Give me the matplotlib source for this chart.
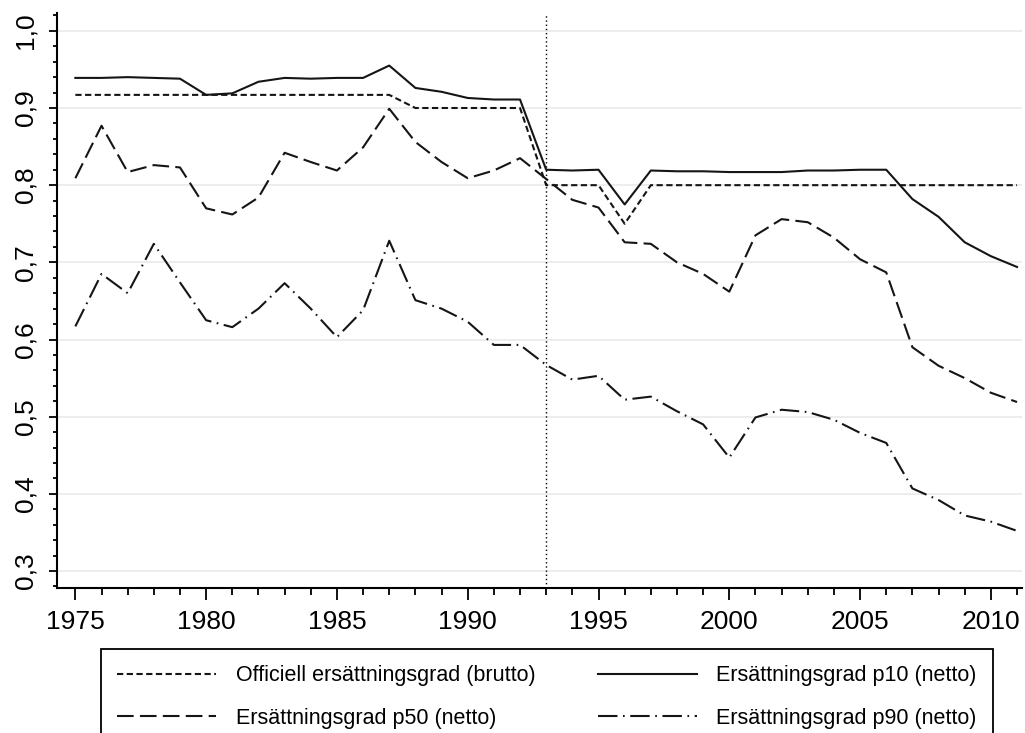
import matplotlib
matplotlib.use("Agg")
import matplotlib.pyplot as plt
from matplotlib.ticker import MultipleLocator, FuncFormatter
import numpy as np

years = list(range(1975, 2012))

official = [0.917] * 13 + [0.900] * 5 + [0.800] * 3 + [0.750] + [0.800] * 15

p10 = [0.939, 0.939, 0.940, 0.939, 0.938, 0.917, 0.919, 0.934, 0.939, 0.938,
       0.939, 0.939, 0.955, 0.926, 0.921, 0.913, 0.911, 0.911, 0.820, 0.819,
       0.820, 0.775, 0.819, 0.818, 0.818, 0.817, 0.817, 0.817, 0.819, 0.819,
       0.820, 0.820, 0.782, 0.759, 0.726, 0.708, 0.694]

p50 = [0.809, 0.877, 0.817, 0.826, 0.823, 0.770, 0.762, 0.784, 0.842, 0.830,
       0.819, 0.849, 0.899, 0.856, 0.830, 0.809, 0.819, 0.835, 0.808, 0.781,
       0.771, 0.726, 0.724, 0.700, 0.685, 0.662, 0.735, 0.756, 0.752, 0.732,
       0.704, 0.687, 0.590, 0.566, 0.550, 0.531, 0.519]

p90 = [0.617, 0.685, 0.660, 0.724, 0.674, 0.625, 0.616, 0.640, 0.673, 0.640,
       0.603, 0.638, 0.728, 0.651, 0.640, 0.623, 0.593, 0.593, 0.567, 0.548,
       0.553, 0.522, 0.526, 0.507, 0.490, 0.447, 0.499, 0.509, 0.506, 0.496,
       0.479, 0.466, 0.407, 0.392, 0.372, 0.364, 0.352]

labels = ["Officiell ersättningsgrad (brutto)", "Ersättningsgrad p10 (netto)",
          "Ersättningsgrad p50 (netto)", "Ersättningsgrad p90 (netto)"]
reform_year = 1993

plt.rcParams['font.family'] = ['Liberation Sans', 'DejaVu Sans']
plt.rcParams['lines.scale_dashes'] = False

W, H = 1025, 733
fig = plt.figure(figsize=(W / 100, H / 100), dpi=100)
ax = fig.add_axes([57.3 / W, (H - 588) / H, (1022 - 57.3) / W, (588 - 12.7) / H])

col = '#151515'
lw = 1.5
l_off, = ax.plot(years, official, color=col, lw=lw, linestyle=(0, (4.5, 2.5)))
l_p10, = ax.plot(years, p10, color=col, lw=lw, linestyle='-')
l_p50, = ax.plot(years, p50, color=col, lw=lw, linestyle=(0, (12, 4.5)))
l_p90, = ax.plot(years, p90, color=col, lw=lw, linestyle=(0, (14, 4, 1.2, 4)))

ax.axvline(reform_year, color='black', lw=1.0, linestyle=(0, (1, 2)))

ax.set_xlim(1974.31, 2011.19)
ax.set_ylim(0.278, 1.0235)

ax.xaxis.set_major_locator(MultipleLocator(5))
ax.xaxis.set_minor_locator(MultipleLocator(1))
ax.yaxis.set_major_locator(MultipleLocator(0.1))
ax.yaxis.set_minor_locator(MultipleLocator(0.02))
ax.yaxis.set_major_formatter(FuncFormatter(lambda v, p: f"{v:.1f}".replace('.', ',')))

ax.tick_params(axis='x', which='major', length=8.5, width=1.3, labelsize=19, pad=7, direction='out')
ax.tick_params(axis='x', which='minor', length=5, width=1.3, direction='out')
ax.tick_params(axis='y', which='major', length=6, width=1.3, labelsize=19, pad=8, direction='out')
ax.tick_params(axis='y', which='minor', length=3, width=1.3, direction='out')
for t in ax.get_yticklabels():
    t.set_rotation(90)
    t.set_va('center')

ax.grid(axis='y', which='major', color='#ececec', lw=1.3)
ax.set_axisbelow(True)
for s in ['top', 'right']:
    ax.spines[s].set_visible(False)
for s in ['left', 'bottom']:
    ax.spines[s].set_linewidth(1.5)
    ax.spines[s].set_color('black')

# matplotlib fills legend columns first: order so rows read (official, p10), (p50, p90)
handles = [l_off, l_p50, l_p10, l_p90]
leg_labels = [labels[0], labels[2], labels[1], labels[3]]
leg = fig.legend(handles, leg_labels, ncol=2,
                 loc='upper left', mode='expand',
                 bbox_to_anchor=(101 / W, 0, (993 - 101) / W, (H - 649) / H),
                 bbox_transform=fig.transFigure, borderaxespad=0,
                 fontsize=15.5, handlelength=4.6, handletextpad=0.9,
                 labelspacing=1.0, borderpad=0.75, fancybox=False,
                 framealpha=1, edgecolor='black')
leg.get_frame().set_linewidth(1.3)

fig.savefig('out.png', dpi=100)
